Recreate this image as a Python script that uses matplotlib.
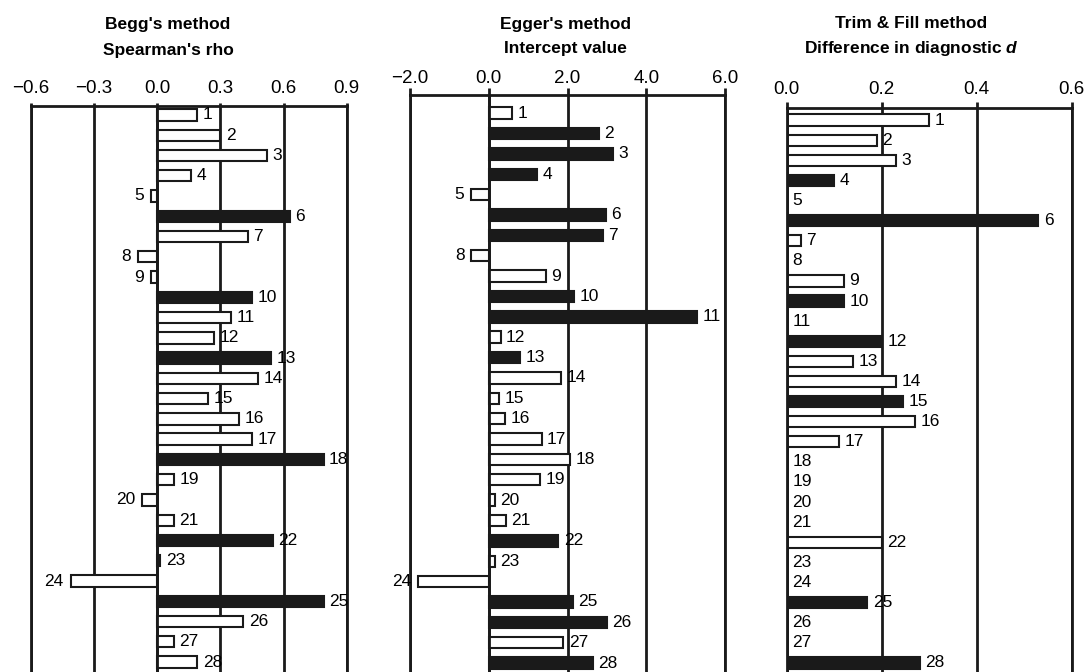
import matplotlib
matplotlib.use("Agg")
import matplotlib.pyplot as plt
import numpy as np

plt.rcParams['font.family'] = ['Liberation Sans', 'DejaVu Sans']
plt.rcParams['mathtext.fontset'] = 'custom'
plt.rcParams['mathtext.it'] = 'Liberation Sans:italic:bold'

studies = list(range(1, 29))

# Begg's method - Spearman's rho
begg_rho = [0.19, 0.30, 0.52, 0.16, -0.03, 0.63, 0.43, -0.09, -0.03, 0.45,
            0.35, 0.27, 0.54, 0.48, 0.24, 0.39, 0.45, 0.79, 0.08, -0.07,
            0.08, 0.55, 0.015, -0.41, 0.79, 0.41, 0.08, 0.19]
begg_sig = [0, 0, 0, 0, 0, 1, 0, 0, 0, 1, 0, 0, 1, 0, 0, 0, 0, 1, 0, 0,
            0, 1, 1, 0, 1, 0, 0, 0]

# Egger's method - intercept
egger_int = [0.6, 2.79, 3.16, 1.22, -0.44, 2.97, 2.89, -0.44, 1.45, 2.17,
             5.30, 0.3, 0.8, 1.83, 0.27, 0.42, 1.34, 2.06, 1.3, 0.15,
             0.43, 1.77, 0.15, -1.8, 2.13, 3.0, 1.89, 2.64]
egger_sig = [0, 1, 1, 1, 0, 1, 1, 0, 0, 1, 1, 0, 1, 0, 0, 0, 0, 0, 0, 0,
             0, 1, 0, 0, 1, 1, 0, 1]

# Trim & Fill - difference in diagnostic d
trim_diff = [0.30, 0.19, 0.23, 0.10, 0, 0.53, 0.03, 0, 0.12, 0.12,
             0, 0.20, 0.14, 0.23, 0.245, 0.27, 0.11, 0, 0, 0,
             0, 0.20, 0, 0, 0.17, 0, 0, 0.28]
trim_sig = [0, 0, 0, 1, 0, 1, 0, 0, 0, 1, 0, 1, 0, 0, 1, 0, 0, 0, 0, 0,
            0, 0, 0, 0, 1, 0, 0, 1]

W, H = 1087, 672
fig = plt.figure(figsize=(W / 100, H / 100), dpi=100)


def make_panel(left, right, top, ylim, vals, sig, ticks, ticklabels,
               tick_len, tick_pad, title, tx, ty):
    ax = fig.add_axes([left / W, 0, (right - left) / W, (H - top) / H])
    colors = ['#1a1a1a' if s else 'white' for s in sig]
    ax.barh(studies, vals, height=0.56, color=colors, edgecolor='#1a1a1a',
            linewidth=1.5, zorder=2)
    for t in ticks:
        ax.axvline(t, color='#1a1a1a', lw=2, zorder=1)
    ax.axvline(0, color='#1a1a1a', lw=2, zorder=3)
    for s, v in zip(studies, vals):
        if v < 0:
            ax.annotate(str(s), (v, s), xytext=(-5, 0), textcoords='offset points',
                        ha='right', va='center', fontsize=12.5, zorder=4)
        else:
            ax.annotate(str(s), (v, s), xytext=(4, 0), textcoords='offset points',
                        ha='left', va='center', fontsize=12.5, zorder=4)
    ax.set_xlim(ticks[0], ticks[-1])
    ax.set_ylim(ylim)
    ax.xaxis.tick_top()
    ax.set_xticks(ticks)
    ax.set_xticklabels(ticklabels)
    ax.tick_params(axis='x', length=tick_len, width=2, pad=tick_pad,
                   labelsize=13.5, color='#1a1a1a')
    ax.set_yticks([])
    ax.spines['bottom'].set_visible(False)
    for sp in ['top', 'left', 'right']:
        ax.spines[sp].set_linewidth(2)
        ax.spines[sp].set_color('#1a1a1a')
    fig.text(tx / W, 1 - ty[0] / H, title[0], ha='center', va='center',
             fontsize=12.5, fontweight='bold')
    fig.text(tx / W, 1 - ty[1] / H, title[1], ha='center', va='center',
             fontsize=12.5, fontweight='bold')
    return ax


make_panel(30.7, 346.7, 106, (28.49, 0.56), begg_rho, begg_sig,
           [-0.6, -0.3, 0.0, 0.3, 0.6, 0.9],
           ['\u22120.6', '\u22120.3', '0.0', '0.3', '0.6', '0.9'],
           2.2, 4.5, ["Begg's method", "Spearman's rho"], 168, (25, 50))

make_panel(410, 725, 95, (28.44, 0.11), egger_int, egger_sig,
           [-2.0, 0.0, 2.0, 4.0, 6.0],
           ['\u22122.0', '0.0', '2.0', '4.0', '6.0'],
           5, 1, ["Egger's method", "Intercept value"], 565, (25, 49))

make_panel(786.7, 1071.7, 108, (28.45, 0.4), trim_diff, trim_sig,
           [0.0, 0.2, 0.4, 0.6],
           ['0.0', '0.2', '0.4', '0.6'],
           4.3, 3.0, ["Trim & Fill method", r"Difference in diagnostic $\it{d}$"],
           911, (24, 49))

plt.savefig("out.png", dpi=100)
